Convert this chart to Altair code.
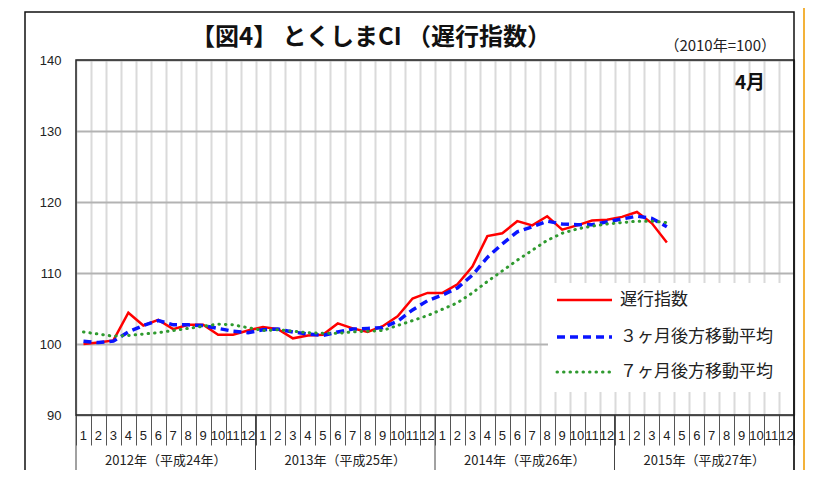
import altair as alt
import pandas as pd

# ---------------- data ----------------
month_labels = [str(m) for m in range(1, 13)] * 4
year_labels = ["2012年（平成24年）", "2013年（平成25年）", "2014年（平成26年）", "2015年（平成27年）"]
series_names = ["遅行指数", "３ヶ月後方移動平均", "７ヶ月後方移動平均"]

lagging = [100.0, 100.2, 100.5, 104.4, 102.6, 103.4, 102.1, 102.7, 102.7, 101.3, 101.3, 101.9,
           102.4, 102.1, 100.8, 101.2, 101.3, 102.9, 102.2, 101.7, 102.5, 103.9, 106.4, 107.2,
           107.2, 108.4, 110.9, 115.2, 115.6, 117.3, 116.7, 118.0, 116.1, 116.7, 117.4, 117.5,
           117.9, 118.6, 117.0, 114.3]
ma3 = [100.4, 100.2, 100.4, 101.7, 102.6, 103.3, 102.7, 102.7, 102.6, 102.2, 101.8, 101.6,
       102.0, 102.1, 101.7, 101.4, 101.2, 101.7, 102.1, 102.2, 102.3, 103.2, 104.8, 106.1,
       106.9, 107.9, 109.7, 112.2, 114.1, 115.8, 116.5, 117.3, 116.9, 116.8, 116.8, 117.2,
       117.6, 118.0, 117.7, 116.5]
ma7 = [101.7, 101.4, 101.1, 101.2, 101.4, 101.6, 101.9, 102.2, 102.5, 102.8, 102.7, 102.3,
       101.9, 102.0, 101.8, 101.6, 101.5, 101.5, 101.7, 101.8, 101.9, 102.6, 103.3, 104.0,
       104.9, 105.8, 107.2, 108.8, 110.3, 111.8, 113.2, 114.6, 115.6, 116.2, 116.6, 116.9,
       117.1, 117.3, 117.3, 117.1]
y_values = [90, 100, 110, 120, 130, 140]

# ---------------- layout ----------------
W, H = 718, 355
JP = "Noto Sans CJK JP"
LAT = "Liberation Sans"


def long(name, vals):
    return pd.DataFrame({"pos": [i + 0.5 for i in range(len(vals))], "value": vals, "series": name})


df = pd.concat([long(n, v) for n, v in zip(series_names, [lagging, ma3, ma7])], ignore_index=True)
months_df = pd.DataFrame({"pos": [i + 0.5 for i in range(48)], "label": month_labels})
years_df = pd.DataFrame({"pos": [6 + 12 * k for k in range(4)], "label": year_labels})
sep_df = pd.DataFrame({"pos": [0, 12, 24, 36, 48]})
one = pd.DataFrame({"k": [0]})

xs = alt.Scale(domain=[0, 48], nice=False, zero=False)
ys = alt.Scale(domain=[90, 140], nice=False, zero=False)

xaxis = alt.Axis(values=list(range(49)), labels=False, title=None, grid=True,
                 gridColor="#dadada", gridWidth=2, ticks=True, tickSize=30,
                 tickColor="#555", tickWidth=1, domain=False)
yaxis = alt.Axis(values=y_values, title=None, grid=True, gridColor="#b3b3b3", gridWidth=2,
                 ticks=False, domain=False, labelPadding=15, labelFontSize=13,
                 labelFont=LAT, labelColor="#222")

X = alt.X("pos:Q", scale=xs, axis=xaxis)
Y = alt.Y("value:Q", scale=ys, axis=yaxis)

legend_bg = alt.Chart(one).mark_rect(fill="white").encode(
    x=alt.value(472), x2=alt.value(W - 1), y=alt.value(223), y2=alt.value(332))

red_style = dict(color="#ff0000", strokeWidth=2.5)
blue_style = dict(color="#0a14ff", strokeWidth=3.5, strokeDash=[8, 5])
green_style = dict(color="#2f9a2f", strokeWidth=3, strokeDash=[0.5, 6], strokeCap="round")

red = alt.Chart(df).transform_filter(alt.datum.series == series_names[0]).mark_line(**red_style).encode(x=X, y=Y)
blue = alt.Chart(df).transform_filter(alt.datum.series == series_names[1]).mark_line(**blue_style).encode(x=X, y=Y)
green = alt.Chart(df).transform_filter(alt.datum.series == series_names[2]).mark_line(**green_style).encode(x=X, y=Y)

leg_layers = []
for name, style, yy in zip(series_names, [red_style, blue_style, green_style], [240, 277, 312]):
    leg_layers.append(alt.Chart(one).mark_rule(**style).encode(
        x=alt.value(481), x2=alt.value(536), y=alt.value(yy)))
    leg_layers.append(alt.Chart(one).mark_text(font=JP, fontSize=17, color="#222", align="left",
                                               baseline="middle").encode(
        x=alt.value(544), y=alt.value(yy), text=alt.value(name)))

month_text = alt.Chart(months_df).mark_text(font=LAT, fontSize=13, color="#222", baseline="middle").encode(
    x=X, y=alt.value(H + 21), text="label:N")
year_text = alt.Chart(years_df).mark_text(font=JP, fontSize=13, color="#222", baseline="middle").encode(
    x=X, y=alt.value(H + 46), text="label:N")
seps = alt.Chart(sep_df).mark_rule(color="#444", strokeWidth=1).encode(
    x=X, y=alt.value(H), y2=alt.value(H + 80))

border = alt.Chart(one).mark_rect(fillOpacity=0, stroke="#222", strokeWidth=1.5).encode(
    x=alt.value(0), x2=alt.value(W), y=alt.value(0), y2=alt.value(H))
frame = alt.Chart(one).mark_rect(fillOpacity=0, stroke="#111", strokeWidth=1.5).encode(
    x=alt.value(-51), x2=alt.value(W), y=alt.value(-48), y2=alt.value(H + 90))
orange = alt.Chart(one).mark_rect(fill="#F3B23A").encode(
    x=alt.value(W + 9), x2=alt.value(W + 30), y=alt.value(-60), y2=alt.value(H + 90))

title = alt.Chart(one).mark_text(font=JP, fontSize=24, fontWeight="bold", color="#111",
                                 baseline="middle").encode(
    x=alt.value(295), y=alt.value(-22), text=alt.value("【図4】 とくしまCI （遅行指数）"))
base_note = alt.Chart(one).mark_text(font=JP, fontSize=15, color="#222", align="right",
                                     baseline="middle").encode(
    x=alt.value(700), y=alt.value(-14), text=alt.value("（2010年=100）"))
month_note = alt.Chart(one).mark_text(font=JP, fontSize=19, fontWeight="bold", color="#111",
                                      baseline="middle").encode(
    x=alt.value(674), y=alt.value(23), text=alt.value("4月"))

chart = alt.layer(
    legend_bg, red, blue, green, *leg_layers, month_text, year_text, seps,
    border, frame, orange, title, base_note, month_note
).properties(
    width=W, height=H,
    padding={"left": 68, "top": 52, "right": 11, "bottom": 55},
    autosize=alt.AutoSizeParams(type="none"),
    background="white",
).configure_view(stroke=None)

chart.save("out.html", embed_options={"renderer": "svg", "actions": False})
